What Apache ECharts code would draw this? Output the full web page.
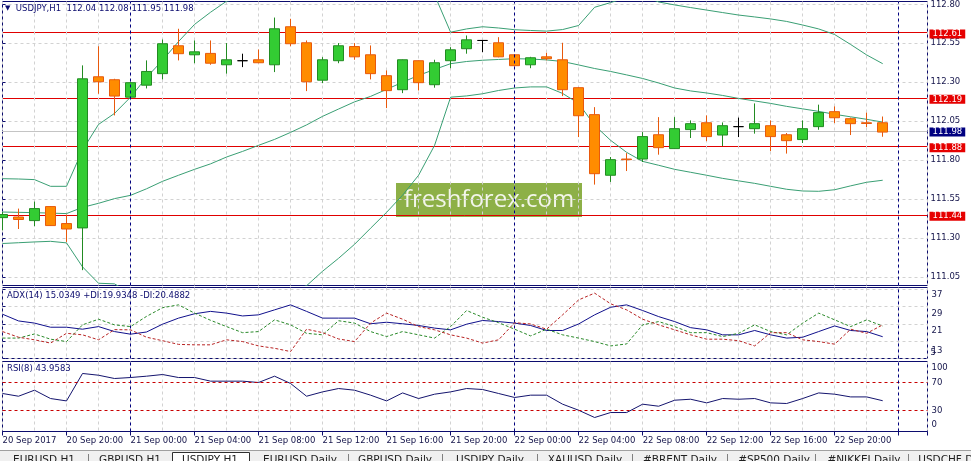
<!DOCTYPE html>
<html>
<head>
<meta charset="utf-8">
<title>USDJPY,H1</title>
<script src="https://cdn.jsdelivr.net/npm/echarts@6.0.0/dist/echarts.min.js"></script>
<style>
  html, body { margin: 0; padding: 0; background: #ffffff; }
  #chart { width: 971px; height: 461px; }
</style>
</head>
<body>
<div id="chart"></div>
<script>
// USDJPY H1, bar 0 = 20 Sep 2017 16:00, one bar per hour
var open = [111.431, 111.435, 111.412, 111.502, 111.393, 111.365, 112.335, 112.316, 112.204, 112.281,
  112.355, 112.534, 112.476, 112.485, 112.412, 112.438, 112.444, 112.412, 112.656, 112.553,
  112.313, 112.438, 112.529, 112.476, 112.342, 112.252, 112.438, 112.284, 112.438, 112.515,
  112.568, 112.553, 112.476, 112.412, 112.463, 112.444, 112.265, 112.092, 111.703, 111.807,
  111.807, 111.963, 111.874, 111.996, 112.040, 111.961, 112.015, 112.002, 112.021, 111.963,
  111.932, 112.015, 112.111, 112.066, 112.040, 112.040];
var close = [111.451, 111.419, 111.489, 111.380, 111.358, 112.322, 112.303, 112.211, 112.297, 112.369,
  112.547, 112.483, 112.495, 112.422, 112.444, 112.438, 112.425, 112.643, 112.547, 112.303,
  112.444, 112.534, 112.463, 112.355, 112.246, 112.444, 112.297, 112.425, 112.508, 112.572,
  112.568, 112.463, 112.406, 112.457, 112.451, 112.252, 112.085, 111.713, 111.803, 111.803,
  111.951, 111.880, 112.002, 112.034, 111.951, 112.021, 112.015, 112.034, 111.951, 111.925,
  112.002, 112.105, 112.072, 112.034, 112.035, 111.980];
var low = [111.350, 111.358, 111.376, 111.378, 111.275, 111.094, 112.226, 112.087, 112.198, 112.260,
  112.318, 112.440, 112.422, 112.412, 112.355, 112.397, 112.422, 112.365, 112.531, 112.243,
  112.294, 112.422, 112.444, 112.318, 112.134, 112.230, 112.247, 112.265, 112.390, 112.483,
  112.493, 112.460, 112.402, 112.390, 112.440, 112.211, 111.948, 111.643, 111.660, 111.730,
  111.788, 111.835, 111.872, 111.942, 111.922, 111.890, 111.948, 111.970, 111.858, 111.842,
  111.910, 111.995, 112.038, 111.961, 112.012, 111.950];
var high = [111.467, 111.489, 111.534, 111.505, 111.451, 112.408, 112.531, 112.322, 112.302, 112.440,
  112.574, 112.643, 112.568, 112.568, 112.551, 112.483, 112.510, 112.715, 112.707, 112.568,
  112.461, 112.551, 112.551, 112.536, 112.376, 112.446, 112.440, 112.444, 112.525, 112.600,
  112.568, 112.589, 112.480, 112.463, 112.489, 112.553, 112.268, 112.140, 111.820, 111.845,
  111.980, 112.076, 112.076, 112.055, 112.087, 112.042, 112.073, 112.164, 112.055, 111.974,
  112.055, 112.156, 112.145, 112.073, 112.105, 112.080];

// Bollinger bands
var bbUpper = [111.681, 111.679, 111.675, 111.632, 111.632, 111.865, 112.029, 112.100, 112.204, 112.331,
  112.440, 112.561, 112.671, 112.749, 112.820, 112.842, 112.890, 112.936, 112.996, 113.058,
  113.075, 113.086, 113.088, 113.055, 113.043, 113.025, 112.985, 112.860, 112.621, 112.642,
  112.656, 112.648, 112.637, 112.632, 112.628, 112.638, 112.664, 112.781, 112.811, 112.844,
  112.856, 112.815, 112.796, 112.779, 112.763, 112.747, 112.731, 112.719, 112.706, 112.690,
  112.667, 112.642, 112.606, 112.542, 112.475, 112.419];
var bbMiddle = [111.467, 111.465, 111.463, 111.460, 111.457, 111.497, 111.523, 111.553, 111.574, 111.616,
  111.664, 111.703, 111.741, 111.776, 111.820, 111.856, 111.895, 111.933, 111.978, 112.026,
  112.081, 112.128, 112.174, 112.209, 112.254, 112.300, 112.344, 112.382, 112.419, 112.433,
  112.441, 112.446, 112.451, 112.449, 112.443, 112.433, 112.411, 112.388, 112.369, 112.347,
  112.324, 112.295, 112.263, 112.244, 112.231, 112.215, 112.196, 112.180, 112.164, 112.145,
  112.129, 112.113, 112.094, 112.078, 112.062, 112.044];
var bbLower = [111.265, 111.270, 111.275, 111.279, 111.269, 111.115, 111.010, 111.006, 110.944, 110.901,
  110.888, 110.845, 110.811, 110.803, 110.820, 110.870, 110.900, 110.930, 110.960, 110.994,
  111.087, 111.170, 111.260, 111.363, 111.465, 111.575, 111.703, 111.895, 112.204, 112.212,
  112.226, 112.247, 112.263, 112.270, 112.270, 112.228, 112.164, 112.023, 111.927, 111.850,
  111.792, 111.767, 111.741, 111.722, 111.703, 111.683, 111.667, 111.651, 111.632, 111.613,
  111.602, 111.600, 111.610, 111.635, 111.658, 111.671];

// ADX(14)
var adx = [25.4, 22.3, 21.3, 19.4, 19.4, 18.5, 19.7, 17.4, 16.2, 17.2,
  20.8, 23.6, 25.6, 26.7, 25.9, 24.6, 25.1, 27.4, 29.7, 26.7,
  23.6, 23.6, 23.6, 21.0, 21.7, 21.0, 20.2, 19.0, 18.2, 20.8,
  22.5, 22.0, 21.3, 20.2, 17.9, 17.9, 20.9, 25.1, 28.6, 29.7,
  27.1, 24.3, 22.0, 19.2, 18.2, 15.9, 15.9, 17.9, 15.9, 14.4,
  14.8, 17.4, 20.0, 17.9, 17.4, 15.03];
var plusDI = [14.4, 14.4, 16.3, 13.9, 12.8, 20.5, 23.1, 20.5, 19.7, 24.4,
  28.4, 29.7, 25.9, 22.6, 19.7, 16.9, 17.4, 22.8, 20.5, 16.6,
  15.9, 22.4, 21.3, 17.4, 15.1, 17.4, 15.9, 14.4, 19.7, 27.1,
  24.0, 21.5, 18.5, 15.4, 18.5, 15.9, 14.4, 12.8, 10.8, 11.7,
  20.5, 22.0, 19.7, 16.9, 16.9, 15.1, 16.6, 20.5, 17.4, 15.9,
  21.3, 25.9, 22.8, 19.7, 22.8, 19.93];
var minusDI = [17.4, 14.8, 13.6, 12.1, 16.6, 15.9, 13.6, 18.3, 18.2, 14.8,
  13.2, 11.5, 11.3, 11.3, 13.6, 12.8, 10.8, 9.7, 8.2, 18.5,
  16.9, 14.0, 12.8, 21.3, 25.9, 23.1, 19.7, 18.2, 15.9, 14.4,
  12.1, 13.6, 21.5, 20.9, 18.5, 25.1, 32.0, 35.1, 30.2, 27.4,
  23.1, 20.5, 18.2, 15.9, 13.9, 13.9, 13.2, 10.8, 16.9, 16.9,
  13.6, 12.8, 11.6, 18.5, 16.6, 20.49];

// RSI(8)
var rsi = [54.3, 50.4, 59.0, 47.1, 43.7, 82.9, 80.4, 75.7, 77.1, 79.0,
  81.4, 77.1, 77.1, 71.9, 71.9, 71.9, 70.0, 79.0, 68.6, 50.4,
  56.6, 61.4, 59.0, 51.9, 43.7, 55.1, 47.1, 53.3, 56.6, 61.4,
  60.0, 54.3, 48.6, 51.9, 51.9, 39.0, 30.4, 20.0, 27.1, 27.1,
  39.0, 36.1, 44.7, 46.1, 40.9, 47.1, 46.1, 47.1, 40.9, 40.0,
  47.1, 55.1, 53.3, 49.4, 49.4, 43.96];

// levels and tick labels
var priceLevels = [112.61, 112.19, 111.88, 111.44];
var priceTicks = [111.05, 111.30, 111.55, 111.80, 112.05, 112.30, 112.55, 112.80];
var adxTicks = [13, 21, 29, 37];
var adxBottomTick = [5];
var rsiTicks = [0, 30, 70, 100];
var rsiLevels = [70, 30];
var dayStarts = [8, 32, 56];
var timeLabels = ['20 Sep 2017', '20 Sep 20:00', '21 Sep 00:00', '21 Sep 04:00', '21 Sep 08:00',
  '21 Sep 12:00', '21 Sep 16:00', '21 Sep 20:00', '22 Sep 00:00', '22 Sep 04:00',
  '22 Sep 08:00', '22 Sep 12:00', '22 Sep 16:00', '22 Sep 20:00'];
var tabNames = ['EURUSD,H1', 'GBPUSD,H1', 'USDJPY,H1', 'EURUSD,Daily', 'GBPUSD,Daily', 'USDJPY,Daily',
  'XAUUSD,Daily', '#BRENT,Daily', '#SP500,Daily', '#NIKKEI,Daily', 'USDCHF,Daily'];

var FONT = 'DejaVu Sans';
var FS = 8.5;
var NAVY = '#0c0c6e';
var TXT = '#14144a';
var LEVEL_RED = '#e00000';
var gridLine = { color: '#d2d2d2', type: [3, 3], width: 1 };
var last = close.length - 1;

function pairs(arr) {
  return arr.map(function (v, i) { return [i, v]; });
}
function daySeparators() {
  return dayStarts.map(function (d) {
    return { xAxis: d, lineStyle: { color: '#000080', type: [3, 3], width: 1 } };
  });
}
function timeAxis(gridIndex, withLabels) {
  return {
    type: 'value', gridIndex: gridIndex, min: 0, max: 57.8, interval: 4,
    axisLine: { show: false },
    axisTick: { show: withLabels, length: 4, lineStyle: { color: NAVY } },
    axisLabel: {
      show: withLabels, align: 'left', margin: 5, color: TXT, fontSize: FS, fontFamily: FONT,
      formatter: function (v) { return v % 4 === 0 ? (timeLabels[v / 4] || '') : ''; }
    },
    splitLine: { show: true, lineStyle: gridLine },
    minorTick: { show: false, splitNumber: 2 },
    minorSplitLine: { show: true, lineStyle: gridLine }
  };
}
function panelGrid(top, height) {
  return {
    left: 2.5, right: 43.5, top: top, height: height, show: true,
    borderColor: NAVY, borderWidth: 1, backgroundColor: 'transparent', outerBoundsMode: 'none'
  };
}

var candleData = open.map(function (o, i) { return [i, o, close[i], low[i], high[i]]; });
var ohlcText = [open[last], high[last], low[last], close[last]].map(function (v) { return v.toFixed(2); }).join(' ');

var chart = echarts.init(document.getElementById('chart'), null, { renderer: 'canvas' });

var option = {
  animation: false,
  backgroundColor: '#ffffff',
  textStyle: { fontFamily: FONT },
  title: [
    {
      left: 5, top: 4, padding: 0,
      text: '{tri|▼}  USDJPY,H1  ' + ohlcText,
      textStyle: { fontSize: FS, fontWeight: 'normal', color: NAVY, fontFamily: FONT, rich: { tri: { fontSize: 7, color: NAVY } } }
    },
    {
      left: 7, top: 291, padding: 0, text: 'ADX(14) 15.0349 +DI:19.9348 -DI:20.4882',
      textStyle: { fontSize: FS, fontWeight: 'normal', color: NAVY, fontFamily: FONT }
    },
    {
      left: 7, top: 364, padding: 0, text: 'RSI(8) 43.9583',
      textStyle: { fontSize: FS, fontWeight: 'normal', color: NAVY, fontFamily: FONT }
    }
  ],
  grid: [panelGrid(1.5, 284), panelGrid(287.5, 71), panelGrid(361.5, 70)],
  xAxis: [timeAxis(0, false), timeAxis(1, false), timeAxis(2, true)],
  yAxis: [
    {
      type: 'value', gridIndex: 0, position: 'right', min: 110.9955, max: 112.818,
      axisLine: { show: false },
      axisTick: { show: true, length: 3, customValues: priceTicks, lineStyle: { color: NAVY } },
      axisLabel: {
        customValues: priceTicks, margin: 3, color: TXT, fontSize: FS, fontFamily: FONT,
        formatter: function (v) { return v.toFixed(2); }
      },
      splitLine: { show: true, lineStyle: gridLine }
    },
    {
      type: 'value', gridIndex: 0, position: 'right', min: 110.9955, max: 112.818,
      axisLine: { show: false }, axisTick: { show: false },
      splitLine: { show: false }, splitArea: { show: false }, minorSplitLine: { show: false },
      axisLabel: {
        customValues: priceLevels.concat([close[last]]), margin: 2, fontSize: FS, fontFamily: FONT,
        showMinLabel: true, showMaxLabel: true, hideOverlap: false,
        formatter: function (v) {
          return (v === close[last] ? '{cur|' : '{lvl|') + v.toFixed(2) + '}';
        },
        rich: {
          lvl: { backgroundColor: '#e60000', color: '#ffffff', padding: [0, 3, 0, 3], lineHeight: 10, fontSize: FS, fontFamily: FONT },
          cur: { backgroundColor: '#000080', color: '#ffffff', padding: [0, 3, 0, 3], lineHeight: 10, fontSize: FS, fontFamily: FONT }
        }
      }
    },
    {
      type: 'value', gridIndex: 1, position: 'right', min: 5, max: 37.7,
      axisLine: { show: false },
      axisTick: { show: true, length: 3, customValues: adxTicks.concat(adxBottomTick), lineStyle: { color: NAVY } },
      axisLabel: {
        customValues: adxTicks, margin: 4, color: TXT, fontSize: FS, fontFamily: FONT,
        showMinLabel: true, showMaxLabel: true, hideOverlap: false,
        formatter: function (v) {
          if (v === 13) return '{c|13}';
          if (v === 37) return '{a|37}';
          return '{m|' + v + '}';
        },
        rich: {
          a: { padding: [11, 0, 0, 0] },
          m: { padding: [15, 0, 0, 0] },
          c: { padding: [19, 0, 0, 0] }
        }
      },
      splitLine: { show: true, lineStyle: gridLine }
    },
    {
      type: 'value', gridIndex: 2, position: 'right', min: 0, max: 100,
      axisLine: { show: false },
      axisTick: { show: true, length: 3, customValues: rsiTicks, lineStyle: { color: NAVY } },
      axisLabel: {
        customValues: rsiTicks, margin: 4, color: TXT, fontSize: FS, fontFamily: FONT,
        showMinLabel: true, showMaxLabel: true, hideOverlap: false,
        formatter: function (v) {
          if (v === 100) return '{d|100}';
          if (v === 0) return '{u|0}';
          return '{m|' + v + '}';
        },
        rich: {
          d: { padding: [13, 0, 0, 0] },
          u: { padding: [0, 0, 13, 0] },
          m: {}
        }
      },
      splitLine: { show: false }
    },
    {
      type: 'value', gridIndex: 1, position: 'right', min: 5, max: 37.7,
      axisLine: { show: false }, axisTick: { show: false }, splitLine: { show: false },
      axisLabel: {
        customValues: adxBottomTick, margin: 3, color: TXT, fontSize: FS, fontFamily: FONT,
        showMinLabel: true, hideOverlap: false,
        formatter: function (v) { return '{b|' + v + '}'; },
        rich: { b: { padding: [0, 0, 11, 0] } }
      }
    }
  ],
  series: [
    {
      name: 'BB upper', type: 'line', xAxisIndex: 0, yAxisIndex: 0, data: pairs(bbUpper),
      symbol: 'none', z: 2, clip: true, lineStyle: { color: '#3a9f74', width: 1 }
    },
    {
      name: 'BB lower', type: 'line', xAxisIndex: 0, yAxisIndex: 0, data: pairs(bbLower),
      symbol: 'none', z: 2, clip: true, lineStyle: { color: '#3a9f74', width: 1 }
    },
    {
      name: 'BB middle', type: 'line', xAxisIndex: 0, yAxisIndex: 0, data: pairs(bbMiddle),
      symbol: 'none', z: 2, clip: true, lineStyle: { color: '#3a9f74', width: 1 },
      markLine: {
        silent: true, symbol: ['none', 'none'], label: { show: false }, animation: false,
        data: daySeparators()
      }
    },
    {
      name: 'USDJPY', type: 'candlestick', xAxisIndex: 0, yAxisIndex: 0, data: candleData,
      encode: { x: 0, y: [1, 2, 3, 4] }, barWidth: 10, z: 3, clip: true,
      itemStyle: {
        color: '#33cc33', color0: '#ff8c00',
        borderColor: '#228b22', borderColor0: '#e8590c', borderColorDoji: '#000000',
        borderWidth: 1
      }
    },
    {
      name: 'ADX', type: 'line', xAxisIndex: 1, yAxisIndex: 2, data: pairs(adx),
      symbol: 'none', lineStyle: { color: '#10108c', width: 1 },
      markLine: { silent: true, symbol: ['none', 'none'], label: { show: false }, animation: false, data: daySeparators() }
    },
    {
      name: '+DI', type: 'line', xAxisIndex: 1, yAxisIndex: 2, data: pairs(plusDI),
      symbol: 'none', lineStyle: { color: '#2a8a2a', width: 1, type: [3, 2] }
    },
    {
      name: '-DI', type: 'line', xAxisIndex: 1, yAxisIndex: 2, data: pairs(minusDI),
      symbol: 'none', lineStyle: { color: '#b82424', width: 1, type: [3, 2] }
    },
    {
      name: 'RSI', type: 'line', xAxisIndex: 2, yAxisIndex: 3, data: pairs(rsi),
      symbol: 'none', lineStyle: { color: '#14146e', width: 1 },
      markLine: {
        silent: true, symbol: ['none', 'none'], label: { show: false }, animation: false,
        data: rsiLevels.map(function (v) {
          return { yAxis: v, lineStyle: { color: '#c80000', type: [3, 3], width: 1 } };
        }).concat(daySeparators())
      }
    }
  ],
  graphic: []
};

// watermark
option.graphic.push({
  type: 'group', z: 100, children: [
    { type: 'rect', shape: { x: 396, y: 183, width: 186, height: 34 }, style: { fill: '#8db047' } },
    {
      type: 'text', x: 489, y: 200,
      style: { text: 'freshforex.com', font: '24px "Open Sans"', fill: '#f3f6ea', align: 'center', verticalAlign: 'middle' }
    }
  ]
});

// terminal tab strip
var tabCenters = [44, 130, 210, 300, 395, 490, 585, 680, 774, 864, 955];
var tabSeps = [88, 348, 442, 537, 632, 727, 815, 908];
var tabChildren = [
  { type: 'rect', shape: { x: 0, y: 450, width: 971, height: 12 }, style: { fill: '#f0f0f0' } },
  { type: 'line', shape: { x1: 0, y1: 450.5, x2: 971, y2: 450.5 }, style: { stroke: '#a0a0a0', lineWidth: 1 } },
  { type: 'rect', shape: { x: 172.5, y: 452.5, width: 77, height: 12 }, style: { fill: '#ffffff', stroke: '#303030', lineWidth: 1 } }
];
tabSeps.forEach(function (x) {
  tabChildren.push({ type: 'line', shape: { x1: x + 0.5, y1: 454, x2: x + 0.5, y2: 461 }, style: { stroke: '#808080', lineWidth: 1 } });
});
tabNames.forEach(function (name, i) {
  tabChildren.push({
    type: 'text', x: tabCenters[i], y: 454.5,
    style: { text: name, font: '10.5px "DejaVu Sans"', fill: '#202020', align: 'center', verticalAlign: 'top' }
  });
});
option.graphic.push({ type: 'group', z: 90, children: tabChildren });

chart.setOption(option);

// horizontal price levels: placed through the price axis, snapped to a pixel row like the terminal does
var x0 = chart.convertToPixel({ xAxisIndex: 0 }, 0) - 0.5;
var x1 = chart.convertToPixel({ xAxisIndex: 0 }, 57.8);
function levelLine(v, color) {
  var y = Math.floor(chart.convertToPixel({ yAxisIndex: 0 }, v)) - 0.5;
  return { type: 'line', shape: { x1: x0, y1: y, x2: x1, y2: y }, style: { stroke: color, lineWidth: 1 } };
}
var levelChildren = [levelLine(close[last], '#c4c4c4')].concat(priceLevels.map(function (v) { return levelLine(v, LEVEL_RED); }));
// below the candles, as in the terminal
chart.setOption({ graphic: option.graphic.concat([{ type: 'group', z: 1, children: levelChildren }]) });
</script>
</body>
</html>
